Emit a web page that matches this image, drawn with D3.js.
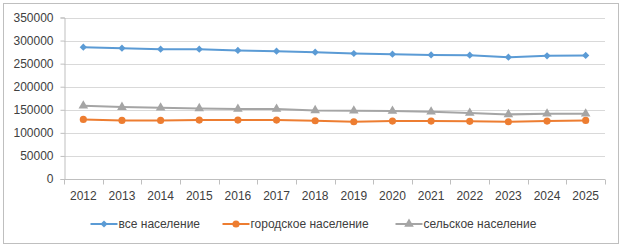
<!DOCTYPE html>
<html>
<head>
<meta charset="utf-8">
<script src="https://cdn.jsdelivr.net/npm/d3@7"></script>
<style>
	body { margin: 0; background: #fff; }
	text { font-family: "Liberation Sans", Arial, sans-serif; fill: #404040; }
</style>
</head>
<body>
<div class="chart"></div>
<script>
const years = [2012, 2013, 2014, 2015, 2016, 2017, 2018, 2019, 2020, 2021, 2022, 2023, 2024, 2025];
const allPop = [285700, 283500, 281400, 281400, 278600, 277000, 274900, 272000, 270600, 269000, 268400, 264000, 266900, 267700];
const urbanPop = [129200, 127000, 127000, 127700, 127700, 127700, 126200, 124000, 125500, 125500, 124900, 124000, 125500, 127000];
const ruralPop = [158700, 155800, 154300, 153000, 151500, 151500, 148700, 147800, 147200, 145700, 142900, 140000, 141300, 141300];
const seriesNames = ['все население', 'городское население', 'сельское население'];
const yTicks = [0, 50000, 100000, 150000, 200000, 250000, 300000, 350000];

const width = 624, height = 248;
const margin = { left: 64, right: 19, top: 17.5, bottom: 69 };

let svg = d3.select('.chart').append('svg')
	.attr('width', width)
	.attr('height', height);

// outer frame
svg.append('rect')
	.attr('x', 3.5).attr('y', 3.5)
	.attr('width', 615).attr('height', 240)
	.attr('fill', 'white')
	.attr('stroke', '#bfbfbf');

let x = d3.scaleBand()
	.domain(years)
	.range([margin.left, width - margin.right]);

let y = d3.scaleLinear()
	.domain([0, 350000])
	.range([height - margin.bottom, margin.top]);

// gridlines
svg.append('g')
	.selectAll('line')
	.data(yTicks.slice(1))
	.enter().append('line')
	.attr('x1', margin.left)
	.attr('x2', width - margin.right)
	.attr('y1', d => Math.round(y(d)) + 0.5)
	.attr('y2', d => Math.round(y(d)) + 0.5)
	.attr('stroke', '#d9d9d9');

// y axis
let yAxis = svg.append('g')
	.attr('transform', 'translate(' + (margin.left + 0.5) + ',0)')
	.call(d3.axisLeft(y).tickValues(yTicks).tickFormat(d3.format('d')).tickSize(4).tickPadding(7));
yAxis.selectAll('text').style('font-size', '12px').attr('fill', '#404040');
yAxis.selectAll('line').attr('stroke', '#bfbfbf');
yAxis.select('.domain').attr('stroke', '#bfbfbf');

// x axis with ticks at category boundaries
let xAxisY = Math.round(y(0)) + 0.5;
let xg = svg.append('g');
xg.append('line')
	.attr('x1', margin.left).attr('x2', width - margin.right)
	.attr('y1', xAxisY).attr('y2', xAxisY)
	.attr('stroke', '#bfbfbf');
let bounds = years.map(d => x(d)).concat([x(years[years.length - 1]) + x.bandwidth()]);
xg.selectAll('.tick')
	.data(bounds)
	.enter().append('line')
	.attr('x1', d => Math.round(d) + 0.5)
	.attr('x2', d => Math.round(d) + 0.5)
	.attr('y1', xAxisY)
	.attr('y2', xAxisY + 5)
	.attr('stroke', '#bfbfbf');
xg.selectAll('text')
	.data(years)
	.enter().append('text')
	.attr('x', d => x(d) + x.bandwidth() / 2)
	.attr('y', 200)
	.attr('text-anchor', 'middle')
	.style('font-size', '12px')
	.text(d => d);

// diamond markers are squares turned 45 degrees
let series = [
	{ name: seriesNames[0], values: allPop, color: '#5b9bd5', marker: d3.symbolSquare, size: 26, rot: 45 },
	{ name: seriesNames[1], values: urbanPop, color: '#ed7d31', marker: d3.symbolCircle, size: 40, rot: 0 },
	{ name: seriesNames[2], values: ruralPop, color: '#a5a5a5', marker: d3.symbolTriangle, size: 40, rot: 0 }
];

let cx = d => x(d) + x.bandwidth() / 2;
let line = d3.line()
	.x((d, i) => cx(years[i]))
	.y(d => y(d));

series.forEach(s => {
	svg.append('path')
		.datum(s.values)
		.attr('d', line)
		.attr('fill', 'none')
		.attr('stroke', s.color)
		.attr('stroke-width', 2);
	svg.append('g')
		.selectAll('path')
		.data(s.values)
		.enter().append('path')
		.attr('d', d3.symbol().type(s.marker).size(s.size))
		.attr('transform', (d, i) => 'translate(' + cx(years[i]) + ',' + y(d) + ') rotate(' + s.rot + ')')
		.attr('fill', s.color);
});

// legend
let legendX = [90.5, 222.5, 395.5];
let legend = svg.append('g');
series.forEach((s, i) => {
	let g = legend.append('g').attr('transform', 'translate(' + legendX[i] + ',224)');
	g.append('line')
		.attr('x1', 0).attr('x2', 27)
		.attr('stroke', s.color)
		.attr('stroke-width', 2);
	g.append('path')
		.attr('d', d3.symbol().type(s.marker).size(s.size))
		.attr('transform', 'translate(13.5,0) rotate(' + s.rot + ')')
		.attr('fill', s.color);
	g.append('text')
		.attr('x', 28)
		.attr('y', 4)
		.style('font-size', '12px')
		.text(s.name);
});
</script>
</body>
</html>
